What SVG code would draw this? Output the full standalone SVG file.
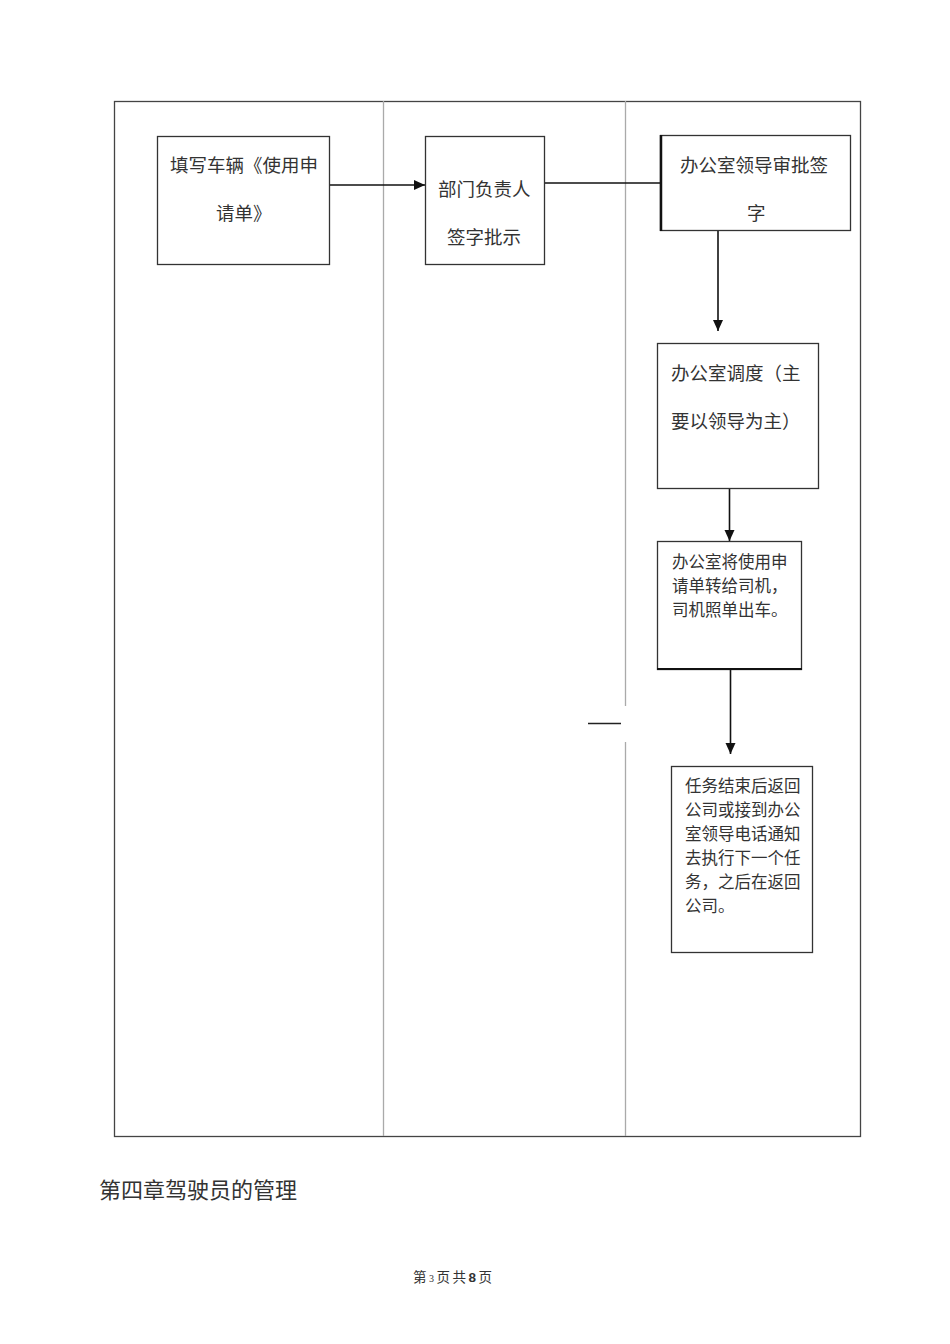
<svg xmlns="http://www.w3.org/2000/svg" width="950" height="1344" viewBox="0 0 950 1344">
<style>
.box{fill:#fff;stroke:#333;stroke-width:1.3}
.t{font-family:"Liberation Serif","Noto Sans CJK SC",serif;fill:#333}
.l{font-size:18.5px}
.s{font-size:16.5px}
.c{stroke:#111;stroke-width:1.6;fill:none}
.lane{stroke:#aaa;stroke-width:1.3}
</style>
<defs>
<marker id="ah" markerWidth="12" markerHeight="12" refX="11" refY="6" orient="auto" markerUnits="userSpaceOnUse">
<path d="M0,1 L11,6 L0,11 Z" fill="#111"/>
</marker>
</defs>
<rect width="950" height="1344" fill="#fff"/>
<g id="frame">
<rect x="114.5" y="101.5" width="746" height="1035" fill="none" stroke="#444" stroke-width="1.3"/>
<line class="lane" x1="383.5" y1="101" x2="383.5" y2="1136"/>
<line class="lane" x1="625.5" y1="101" x2="625.5" y2="706"/>
<line class="lane" x1="625.5" y1="742" x2="625.5" y2="1136"/>
<line x1="588" y1="723.5" x2="621" y2="723.5" stroke="#222" stroke-width="1.3"/>
</g>
<g id="connectors">
<line class="c" x1="330" y1="185" x2="425" y2="185" marker-end="url(#ah)"/>
<line class="c" x1="545" y1="183" x2="660" y2="183" stroke-width="1.3"/>
<line class="c" x1="718" y1="230" x2="718" y2="331" marker-end="url(#ah)"/>
<line class="c" x1="729.5" y1="488" x2="729.5" y2="541" marker-end="url(#ah)"/>
<line class="c" x1="730.5" y1="669" x2="730.5" y2="754" marker-end="url(#ah)"/>
</g>
<g id="n1">
<rect class="box" x="157.5" y="136.5" width="172" height="128"/>
<text class="t l" x="170" y="172">填写车辆《使用申</text>
<text class="t l" x="216" y="220">请单》</text>
</g>
<g id="n2">
<rect class="box" x="425.5" y="136.5" width="119" height="128"/>
<text class="t l" x="438" y="196">部门负责人</text>
<text class="t l" x="447" y="244">签字批示</text>
</g>
<g id="n3">
<rect class="box" x="660.5" y="135.5" width="190" height="95"/>
<line x1="661" y1="135" x2="661" y2="231" stroke="#111" stroke-width="2.5"/>
<text class="t l" x="680" y="172">办公室领导审批签</text>
<text class="t l" x="747" y="220">字</text>
</g>
<g id="n4">
<rect class="box" x="657.5" y="343.5" width="161" height="145"/>
<text class="t l" x="671" y="380">办公室调度（主</text>
<text class="t l" x="671" y="428">要以领导为主）</text>
</g>
<g id="n5">
<rect class="box" x="657.5" y="541.5" width="144" height="128"/>
<line x1="657" y1="669" x2="802" y2="669" stroke="#111" stroke-width="2.2"/>
<text class="t s" x="672" y="568">办公室将使用申</text>
<text class="t s" x="672" y="592">请单转给司机，</text>
<text class="t s" x="672" y="616">司机照单出车。</text>
</g>
<g id="n6">
<rect class="box" x="671.5" y="766.5" width="141" height="186"/>
<text class="t s" x="685" y="792">任务结束后返回</text>
<text class="t s" x="685" y="816">公司或接到办公</text>
<text class="t s" x="685" y="840">室领导电话通知</text>
<text class="t s" x="685" y="864">去执行下一个任</text>
<text class="t s" x="685" y="888">务，之后在返回</text>
<text class="t s" x="685" y="912">公司。</text>
</g>
<g id="heading">
<text class="t" x="99" y="1198" font-size="22">第四章驾驶员的管理</text>
</g>
<g id="footer">
<text class="t" x="413" y="1282" font-size="13.5" letter-spacing="2.5">第<tspan font-size="10">3</tspan>页共<tspan font-family="Liberation Sans,sans-serif" font-weight="bold">8</tspan>页</text>
</g>
</svg>
